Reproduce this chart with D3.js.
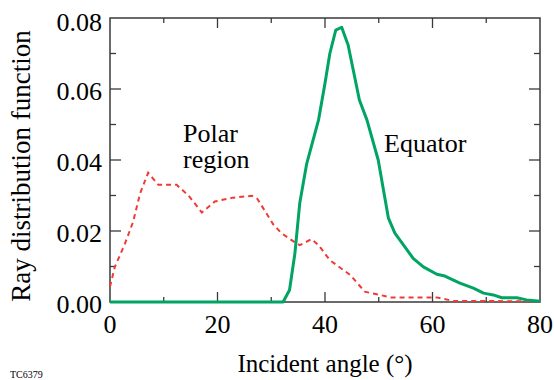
<!DOCTYPE html>
<html>
<head>
<meta charset="utf-8">
<script src="https://cdn.jsdelivr.net/npm/d3@7"></script>
</head>
<body style="margin:0">
<svg id="chart" width="554" height="380" style="display:block"></svg>
<script>
const polarAngle = [0, 0.9, 2.8, 4.3, 5.6, 7.1, 9.0, 12.4, 14.6, 17.1, 19.5, 22.9, 26.4, 27.4, 30.4, 31.9, 34.4, 35.3, 37.5, 38.8, 40.9, 44.7, 47.4, 50.2, 52.1, 60.8, 63.8, 80];
const polarValue = [0.0043, 0.0099, 0.0165, 0.0226, 0.0306, 0.0364, 0.033, 0.033, 0.0300, 0.0252, 0.0283, 0.0294, 0.0299, 0.0291, 0.0218, 0.0194, 0.0168, 0.016, 0.0177, 0.016, 0.0118, 0.0076, 0.0029, 0.002, 0.0013, 0.0013, 0.0003, 0.0002];

const equatorAngle = [0, 32.2, 33.4, 34.4, 35.3, 36.6, 38.8, 40.0, 40.9, 42.0, 43.1, 44.3, 46.4, 47.8, 49.9, 51.8, 53.0, 56.4, 58.3, 60.8, 62.3, 65.1, 67.6, 69.5, 71.3, 72.9, 75.7, 77.5, 80];
const equatorValue = [0, 0, 0.0034, 0.0137, 0.0278, 0.039, 0.0513, 0.0616, 0.070, 0.0766, 0.0774, 0.0724, 0.0569, 0.0513, 0.040, 0.0236, 0.0194, 0.0123, 0.0099, 0.0078, 0.0073, 0.0053, 0.0039, 0.0025, 0.002, 0.0012, 0.0012, 0.0006, 0.0002];

const xTickLabels = ["0", "20", "40", "60", "80"];
const yTickLabels = ["0.00", "0.02", "0.04", "0.06", "0.08"];

const xTitle = "Incident angle (°)";
const yTitle = "Ray distribution function";
const polarLabel = ["Polar", "region"];
const equatorLabel = "Equator";
const footnote = "TC6379";

const svg = d3.select("#chart");
const L = 110, R = 540, T = 18, B = 302;

const x = d3.scaleLinear().domain([0, 80]).range([L, R]);
const y = d3.scaleLinear().domain([0, 0.08]).range([B, T]);

const axisColor = "#3a3a3a";

function txt(xp, yp, s, size, anchor, rot) {
  const t = svg.append("text")
    .attr("transform", `translate(${xp},${yp}) rotate(${rot || 0.01})`)
    .attr("font-size", size);
  t.style("font-family", "'Liberation Serif', monospace");
  if (anchor) t.attr("text-anchor", anchor);
  t.text(s);
  return t;
}

// frame
svg.append("rect").attr("x", L).attr("y", T).attr("width", R - L).attr("height", B - T)
  .attr("fill", "none").attr("stroke", axisColor).attr("stroke-width", 1.5);

// ticks
const xTicks = d3.range(0, 81, 10);
const yTicks = d3.range(0, 0.0801, 0.01);
const g = svg.append("g").attr("stroke", axisColor).attr("stroke-width", 1.3);
xTicks.forEach(v => {
  const len = (Math.round(v) % 20 === 0) ? 10 : 5;
  if (v === 0 || v === 80) return;
  g.append("line").attr("x1", x(v)).attr("x2", x(v)).attr("y1", B).attr("y2", B - len);
  g.append("line").attr("x1", x(v)).attr("x2", x(v)).attr("y1", T).attr("y2", T + len);
});
yTicks.forEach(v => {
  const k = Math.round(v * 100);
  const len = (k % 2 === 0) ? 11 : 6;
  if (k === 0 || k === 8) return;
  g.append("line").attr("x1", L).attr("x2", L + len).attr("y1", y(v)).attr("y2", y(v));
  g.append("line").attr("x1", R).attr("x2", R - len).attr("y1", y(v)).attr("y2", y(v));
});

// lines
const line = d3.line().x(d => x(d[0])).y(d => y(d[1]));
const polarData = polarAngle.map((a, i) => [a, polarValue[i]]);
const equatorData = equatorAngle.map((a, i) => [a, equatorValue[i]]);

svg.append("path").datum(polarData).attr("d", line)
  .attr("fill", "none").attr("stroke", "#ef3b36").attr("stroke-width", 2)
  .attr("stroke-dasharray", "5,4");
svg.append("path").datum(equatorData).attr("d", line)
  .attr("fill", "none").attr("stroke", "#00a463").attr("stroke-width", 3)
  .attr("stroke-linejoin", "round");

// tick labels
xTickLabels.forEach(s => txt(x(+s), 333, s, 26, "middle"));
yTickLabels.forEach(s => txt(102, Math.max(y(+s) + 11, 31), s, 26, "end"));

// axis titles
txt(325, 372, xTitle, 25, "middle");
txt(30, 166, yTitle, 27, "middle", -90);

// annotations
txt(183, 141.5, polarLabel[0], 26);
txt(183, 168, polarLabel[1], 26);
txt(384, 151.5, equatorLabel, 26);

txt(10, 378, footnote, 10);
</script>
</body>
</html>
